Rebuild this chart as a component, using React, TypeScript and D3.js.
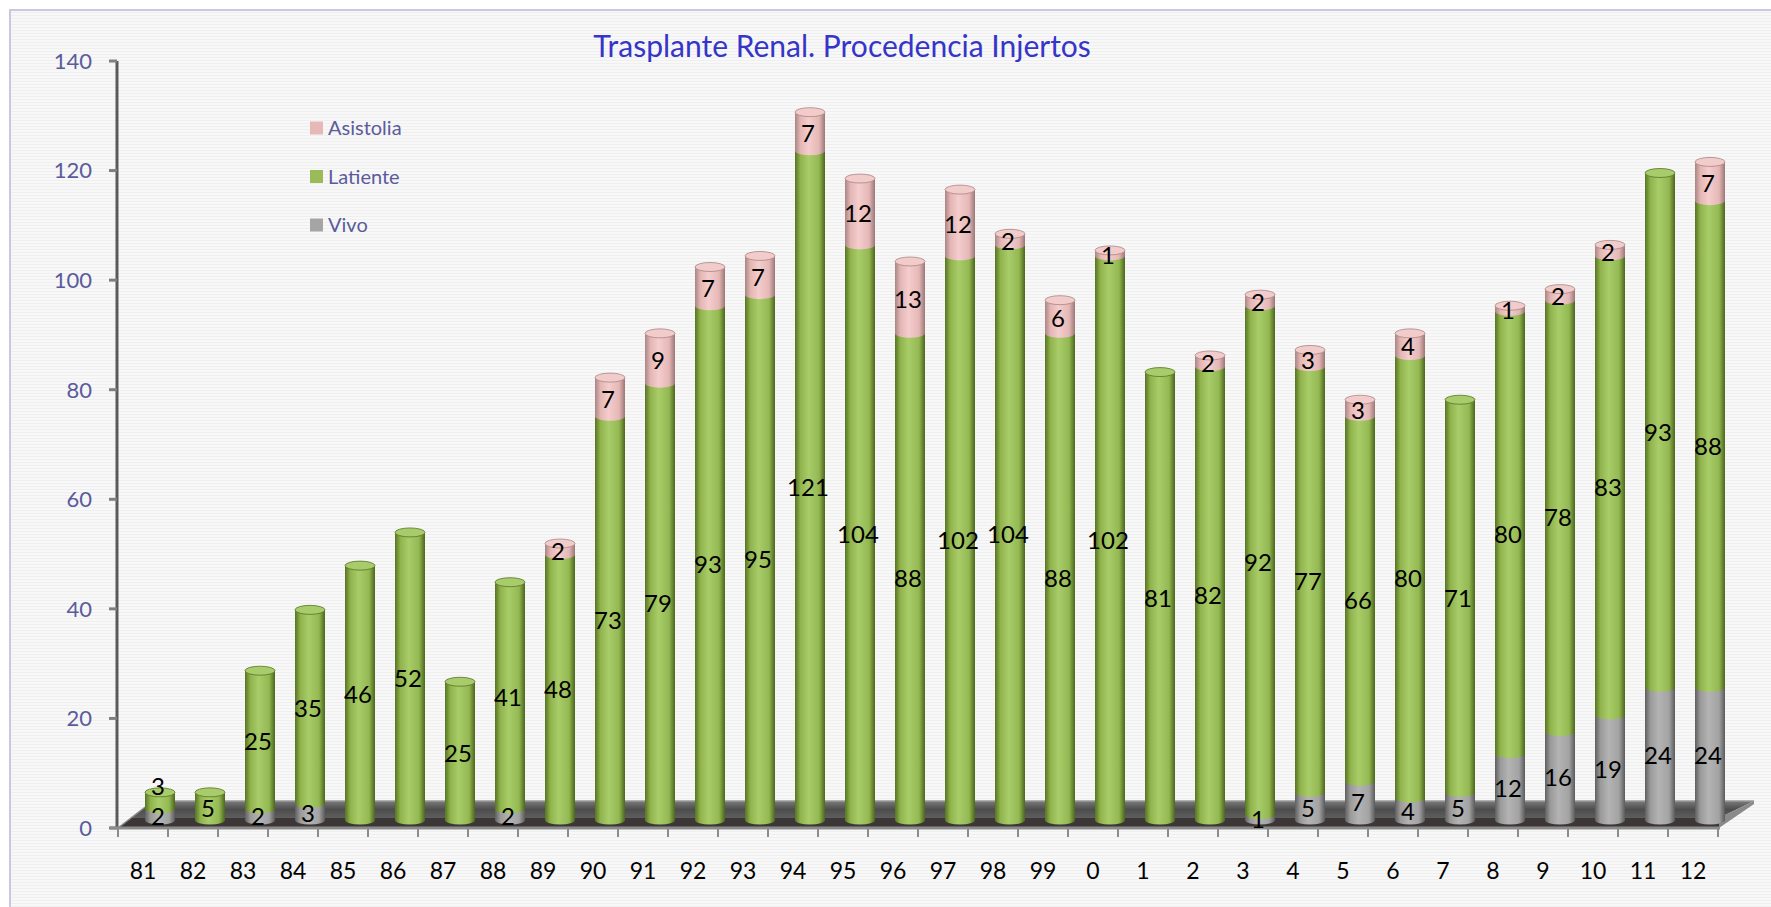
import React from "react";
import * as d3 from "d3";

const categories = ["81","82","83","84","85","86","87","88","89","90","91","92","93","94","95","96","97","98","99","0","1","2","3","4","5","6","7","8","9","10","11","12"];
const vivo = [2,0,2,3,0,0,0,2, 0,0,0,0,0,0,0,0,0,0,0,0,0,0, 1,5,7,4,5,12,16,19,24,24];
const latiente = [3,5,25,35,46,52,25,41,48,73,79,93,95,121,104,88,102,104,88,102,81,82,92,77,66,80,71,80,78,83,93,88];
const asistolia = [0,0,0,0,0,0,0,0,2,7,9,7,7,7,12,13,12,2,6,1,0,2,2,3,3,4,0,1,2,2,0,7];
const yTicks = [0,20,40,60,80,100,120,140];
const seriesNames = ["Asistolia","Latiente","Vivo"];

const W = 1771, H = 907;
const FONT = "Lato, 'Open Sans', sans-serif";

const series = [
  { key: "vivo", values: vivo, id: "g-vivo", cap: "#b9b9b9", swatch: "#a5a5a5",
    stops: ["#5f5f5f", "#9a9a9a", "#b3b3b3", "#a3a3a3", "#5a5a5a"] },
  { key: "lat", values: latiente, id: "g-lat", cap: "#a8cb6c", swatch: "#9bbb59",
    stops: ["#587422", "#90b34d", "#a8cc68", "#94b852", "#4c661c"] },
  { key: "asi", values: asistolia, id: "g-asi", cap: "#f1cccb", swatch: "#e6b9b8",
    stops: ["#a88584", "#e3b6b5", "#f4cdcc", "#e5b8b7", "#9a7776"] },
];

export default function App() {
  const x = d3.scaleBand<string>().domain(categories).range([118, 1718]).paddingInner(0).paddingOuter(0);
  const yAxis = d3.scaleLinear().domain([0, 140]).range([828, 61]);
  const yBar = d3.scaleLinear().domain([0, 140]).range([820, 820 - 140 * 5.53]);
  const bw = x.bandwidth();
  const depthDx = 17;
  const rx = 15, ry = 4.5;
  const labelGap = 30;

  const bars = categories.map((c, i) => {
    const cx = (x(c) as number) + bw / 2 + depthDx;
    let acc = 0;
    let prevLy = Infinity;
    const segs: { y0: number; y1: number; s: typeof series[0]; v: number; ly: number }[] = [];
    series.forEach((s) => {
      const v = s.values[i];
      if (v > 0) {
        const y0 = yBar(acc), y1 = yBar(acc + v);
        let ly = (y0 + y1) / 2 + 2;
        if (ly > prevLy - labelGap) ly = prevLy - labelGap;
        prevLy = ly;
        segs.push({ y0, y1, s, v, ly });
        acc += v;
      }
    });
    return { c, cx, segs };
  });

  const segPath = (cx: number, yTop: number, yBot: number) =>
    `M${cx - rx},${yTop} L${cx - rx},${yBot} A${rx},${ry} 0 0 0 ${cx + rx},${yBot} L${cx + rx},${yTop} Z`;

  return (
    <svg width={W} height={H} style={{ position: "absolute", left: 0, top: 0 }} fontFamily={FONT}>
      <defs>
        <pattern id="bgp" width="4" height="3" patternUnits="userSpaceOnUse">
          <rect width="4" height="3" fill="#f8f8f8" />
          <rect width="4" height="1" fill="#efefef" />
        </pattern>
        {series.map((s) => (
          <linearGradient key={s.id} id={s.id} x1="0" x2="1" y1="0" y2="0">
            <stop offset="0" stopColor={s.stops[0]} />
            <stop offset="0.18" stopColor={s.stops[1]} />
            <stop offset="0.45" stopColor={s.stops[2]} />
            <stop offset="0.8" stopColor={s.stops[3]} />
            <stop offset="1" stopColor={s.stops[4]} />
          </linearGradient>
        ))}
        <linearGradient id="floorTop" x1="0" x2="0" y1="0" y2="1">
          <stop offset="0" stopColor="#7a7a7a" />
          <stop offset="0.5" stopColor="#4d4d4d" />
          <stop offset="1" stopColor="#5e5e5e" />
        </linearGradient>
      </defs>
      <rect x={0} y={0} width={W} height={H} fill="#ffffff" />
      <rect x={10} y={10} width={W} height={H} fill="url(#bgp)" stroke="#cdc5e4" strokeWidth={2} />

      {/* Title */}
      <text x={842} y={57} textAnchor="middle" fontSize={30} fill="#3535c8">Trasplante Renal. Procedencia Injertos</text>

      {/* Y axis */}
      <line x1={117} x2={117} y1={yAxis(140)} y2={yAxis(0)} stroke="#5a5a5a" strokeWidth={3} />
      {yTicks.map((t) => (
        <g key={t}>
          <line x1={109} x2={117} y1={yAxis(t)} y2={yAxis(t)} stroke="#7f7f7f" strokeWidth={3} />
          <text x={92} y={yAxis(t)} dy="0.36em" textAnchor="end" fontSize={22} fill="#5b5b9c">{t}</text>
        </g>
      ))}

      {/* Floor */}
      <polygon points="131,818 1719,818 1754,801 153,801" fill="url(#floorTop)" />
      <polygon points="118,828 1719,828 1719,818 131,818" fill="#3d3636" />
      <polygon points="1719,818 1719,828 1754,804 1754,801" fill="#8a8a8a" />
      <line x1={153} x2={1754} y1={801} y2={801} stroke="#9a9a9a" strokeWidth={1.5} />
      <line x1={118} x2={153} y1={828} y2={801} stroke="#8a8a8a" strokeWidth={1.5} />

      {/* X axis */}
      <line x1={110} x2={1720} y1={828} y2={828} stroke="#8c8c8c" strokeWidth={3} />
      {categories.map((c) => (
        <line key={"t" + c} x1={x(c) as number} x2={x(c) as number} y1={828} y2={837} stroke="#8c8c8c" strokeWidth={2} />
      ))}
      <line x1={1718} x2={1718} y1={828} y2={837} stroke="#8c8c8c" strokeWidth={2} />
      {categories.map((c) => (
        <text key={"l" + c} x={(x(c) as number) + bw / 2} y={871} dy="0.36em" textAnchor="middle" fontSize={23} fill="#000">{c}</text>
      ))}

      {/* Bars */}
      {bars.map((b) => {
        const top = b.segs[b.segs.length - 1];
        return (
          <g key={"b" + b.c}>
            {b.segs.map((sg, k) => (
              <path key={k} d={segPath(b.cx, sg.y1, sg.y0)} fill={`url(#${sg.s.id})`} />
            ))}
            {top && (
              <ellipse cx={b.cx} cy={top.y1} rx={rx} ry={ry} fill={top.s.cap} stroke={top.s.stops[0]} strokeWidth={0.8} />
            )}
          </g>
        );
      })}

      {/* Data labels */}
      {bars.map((b) =>
        b.segs.map((sg, k) => (
          <text key={"d" + b.c + k} x={b.cx - 2} y={sg.ly} dy="0.36em" textAnchor="middle" fontSize={24} fill="#000">{sg.v}</text>
        ))
      )}

      {/* Legend */}
      {seriesNames.map((n, i) => {
        const s = series[2 - i];
        const yy = 128 + i * 48.5;
        return (
          <g key={n}>
            <rect x={310} y={yy - 6.5} width={13} height={13} fill={s.swatch} />
            <text x={328} y={yy} dy="0.36em" fontSize={20} fill="#5b5b9c">{n}</text>
          </g>
        );
      })}
    </svg>
  );
}
